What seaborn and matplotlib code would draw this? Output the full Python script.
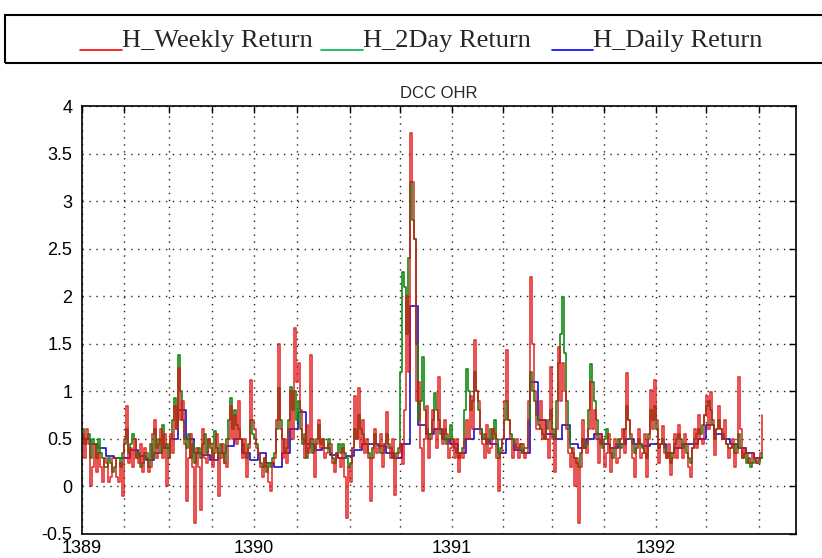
import numpy as np
import matplotlib
matplotlib.use("Agg")
import matplotlib.pyplot as plt
import seaborn as sns
from matplotlib.lines import Line2D
from matplotlib.patches import Rectangle

h_weekly = [0.55, 0.3, 0.6, 0.45, 0.0, 0.2, 0.45, 0.15, 0.35, 0.2,
            0.05, 0.3, 0.25, 0.05, 0.1, 0.3, 0.3, 0.1, 0.05, 0.25,
            -0.1, 0.5, 0.85, 0.25, 0.4, 0.2, 0.5, 0.3, 0.25, 0.45,
            0.15, 0.4, 0.35, 0.15, 0.2, 0.55, 0.7, 0.3, 0.45, 0.6,
            0.3, 0.55, 0.0, 0.3, 0.55, 0.35, 0.85, 0.6, 1.25, 0.7,
            0.9, 0.45, -0.15, 0.3, 0.55, 0.2, -0.38, 0.4, 0.2, -0.25,
            0.6, 0.3, 0.25, 0.5, 0.45, 0.2, 0.35, 0.55, -0.1, 0.3,
            0.45, 0.25, 0.2, 0.5, 0.85, 0.5, 0.75, 0.45, 0.9, 0.5,
            0.3, 0.5, 0.1, 0.4, 1.12, 0.7, 0.6, 0.4, 0.35, 0.2,
            0.1, 0.3, 0.2, 0.05, -0.05, 0.25, 0.3, 0.7, 1.5, 0.6,
            0.3, 0.5, 0.25, 0.6, 1.0, 0.5, 1.67, 1.1, 1.3, 0.8,
            0.5, 0.3, 0.65, 0.35, 1.38, 0.5, 0.1, 0.45, 0.7, 0.4,
            0.5, 0.3, 0.35, 0.45, 0.45, 0.25, 0.15, 0.35, 0.3, 0.2,
            0.4, 0.1, -0.33, 0.2, 0.05, 0.4, 0.95, 0.5, 1.03, 0.4,
            0.7, 0.35, 0.5, 0.3, -0.15, 0.3, 0.6, 0.35, 0.4, 0.55,
            0.2, 0.45, 0.78, 0.4, 0.3, 0.5, -0.09, 0.3, 0.35, 0.45,
            0.24, 0.8, 2.0, 1.2, 3.72, 3.2, 2.6, 0.9, 1.1, 0.4,
            -0.05, 0.5, 0.85, 0.3, 0.5, 0.8, 0.6, 0.4, 1.15, 0.6,
            0.45, 0.7, 0.55, 0.3, 0.4, 0.5, 0.3, 0.5, 0.15, 0.35,
            0.3, 0.5, 0.7, 0.5, 0.95, 0.6, 1.54, 1.0, 0.9, 0.55,
            0.45, 0.3, 0.65, 0.35, 0.4, 0.6, 0.55, 0.3, -0.05, 0.35,
            0.5, 0.9, 1.43, 0.7, 0.5, 0.3, 0.4, 0.5, 0.3, 0.45,
            0.45, 0.3, 0.35, 0.9, 2.2, 1.5, 1.0, 0.6, 0.6, 0.9,
            0.5, 0.7, 0.5, 0.3, 1.26, 0.5, 0.15, 0.6, 1.47, 0.9,
            1.3, 1.0, 0.6, 0.35, 0.2, 0.4, 0.0, 0.3, -0.38, 0.2,
            0.7, 0.4, 0.35, 0.6, 1.1, 0.6, 0.8, 0.5, 0.25, 0.55,
            0.45, 0.2, 0.35, 0.55, 0.15, 0.4, 0.5, 0.25, 0.3, 0.5,
            0.6, 0.35, 1.19, 0.7, 0.55, 0.3, 0.1, 0.45, 0.6, 0.3,
            0.35, 0.55, 0.1, 0.5, 1.01, 0.6, 1.12, 0.7, 0.25, 0.45,
            0.64, 0.35, 0.3, 0.45, 0.12, 0.3, 0.55, 0.3, 0.65, 0.4,
            0.3, 0.55, 0.45, 0.2, 0.1, 0.4, 0.6, 0.4, 0.75, 0.5,
            0.45, 0.75, 0.95, 0.6, 0.99, 0.7, 0.33, 0.6, 0.85, 0.6,
            0.5, 0.7, 0.45, 0.3, 0.4, 0.5, 0.2, 0.35, 1.15, 0.6,
            0.3, 0.4, 0.35, 0.25, 0.25, 0.35, 0.3, 0.25, 0.28, 0.35,
            0.75]

h_2day = [0.6, 0.45, 0.5, 0.55, 0.3, 0.5, 0.45, 0.3, 0.5, 0.35,
          0.3, 0.2, 0.2, 0.3, 0.25, 0.15, 0.2, 0.3, 0.3, 0.2,
          0.35, 0.45, 0.6, 0.35, 0.45, 0.55, 0.5, 0.3, 0.35, 0.2,
          0.25, 0.35, 0.3, 0.2, 0.45, 0.3, 0.6, 0.4, 0.5, 0.35,
          0.65, 0.4, 0.45, 0.3, 0.5, 0.7, 0.93, 0.6, 1.38, 1.0,
          0.7, 0.5, 0.4, 0.55, 0.3, 0.45, 0.25, 0.35, 0.4, 0.3,
          0.45, 0.55, 0.35, 0.5, 0.4, 0.3, 0.58, 0.4, 0.3, 0.45,
          0.35, 0.25, 0.5, 0.7, 0.93, 0.6, 0.8, 0.65, 0.6, 0.5,
          0.45, 0.35, 0.3, 0.45, 0.7, 0.55, 0.5, 0.45, 0.35, 0.25,
          0.2, 0.3, 0.15, 0.25, 0.2, 0.3, 0.35, 0.6, 1.03, 0.7,
          0.5, 0.35, 0.4, 0.7, 1.05, 0.8, 1.0, 0.7, 0.9, 0.6,
          0.45, 0.55, 0.3, 0.4, 0.5, 0.35, 0.4, 0.5, 0.65, 0.45,
          0.5, 0.4, 0.4, 0.5, 0.35, 0.3, 0.25, 0.35, 0.45, 0.35,
          0.45, 0.35, 0.3, 0.2, 0.25, 0.4, 0.6, 0.5, 0.75, 0.6,
          0.55, 0.45, 0.45, 0.35, 0.3, 0.4, 0.55, 0.45, 0.45, 0.35,
          0.35, 0.45, 0.55, 0.45, 0.4, 0.3, 0.3, 0.35, 0.4, 1.2,
          2.25, 2.1, 1.6, 2.4, 3.2, 2.8, 2.6, 1.5, 0.7, 0.9,
          1.36, 0.8, 0.6, 0.5, 0.55, 0.7, 0.98, 0.8, 0.7, 0.55,
          0.5, 0.6, 0.45, 0.5, 0.65, 0.5, 0.4, 0.35, 0.3, 0.35,
          0.4, 0.8, 1.24, 1.0, 0.8, 0.9, 1.2, 1.0, 0.8, 0.6,
          0.5, 0.55, 0.45, 0.5, 0.6, 0.5, 0.7, 0.5, 0.3, 0.4,
          0.5, 0.7, 0.9, 0.7, 0.55, 0.5, 0.45, 0.4, 0.4, 0.45,
          0.35, 0.4, 0.4, 0.7, 1.2, 1.0, 0.9, 0.75, 0.65, 0.6,
          0.55, 0.5, 0.6, 0.7, 0.8, 0.6, 0.5, 0.9, 1.3, 1.6,
          1.99, 1.4, 0.9, 0.6, 0.4, 0.35, 0.3, 0.25, 0.2, 0.35,
          0.5, 0.4, 0.45, 0.8, 1.29, 1.1, 0.9, 0.7, 0.5, 0.45,
          0.4, 0.5, 0.6, 0.45, 0.35, 0.3, 0.4, 0.45, 0.5, 0.4,
          0.45, 0.6, 0.85, 0.7, 0.5, 0.45, 0.35, 0.4, 0.5, 0.45,
          0.4, 0.35, 0.3, 0.55, 0.8, 0.7, 0.85, 0.6, 0.4, 0.45,
          0.5, 0.4, 0.3, 0.35, 0.25, 0.35, 0.45, 0.5, 0.55, 0.5,
          0.4, 0.45, 0.35, 0.3, 0.25, 0.4, 0.5, 0.55, 0.6, 0.55,
          0.65, 0.75, 0.85, 0.9, 0.8, 0.65, 0.5, 0.6, 0.7, 0.6,
          0.55, 0.5, 0.45, 0.4, 0.4, 0.45, 0.35, 0.45, 0.55, 0.4,
          0.3, 0.35, 0.25, 0.3, 0.2, 0.25, 0.3, 0.25, 0.25, 0.3,
          0.35]

# daily series is smoother, read at every fourth observation
h_daily = [0.5, 0.45, 0.4, 0.32, 0.3, 0.3, 0.38, 0.32, 0.28, 0.35,
           0.4, 0.5, 0.8, 0.5, 0.35, 0.33, 0.28, 0.35, 0.42, 0.5,
           0.35, 0.28, 0.35, 0.25, 0.2, 0.35, 0.6, 0.78, 0.45, 0.38,
           0.4, 0.33, 0.3, 0.32, 0.38, 0.45, 0.45, 0.42, 0.35, 0.3,
           0.45, 1.9, 0.65, 0.55, 0.6, 0.5, 0.45, 0.35, 0.5, 0.6,
           0.5, 0.45, 0.35, 0.5, 0.38, 0.35, 1.1, 0.7, 0.55, 0.5,
           0.65, 0.45, 0.4, 0.5, 0.55, 0.45, 0.4, 0.45, 0.5, 0.45,
           0.42, 0.45, 0.45, 0.35, 0.4, 0.45, 0.45, 0.5, 0.65, 0.55,
           0.5, 0.45, 0.4, 0.35, 0.3, 0.3]

t_weekly = np.arange(len(h_weekly))
t_2day = np.arange(len(h_2day))
t_daily = np.arange(len(h_daily)) * 4

# x ticks (observation index) and their labels
xtick_pos = [0, 21, 43.5, 65, 86, 107.5, 134, 159, 185, 210.5,
             235, 261, 287, 312, 338.5]
xtick_lab = ['1389', '', '', '', '1390', '', '', '', '1391', '', '', '',
             '1392', '', '']
ytick_pos = [-0.5, 0, 0.5, 1, 1.5, 2, 2.5, 3, 3.5, 4]
ytick_lab = ['-0.5', '0', '0.5', '1', '1.5', '2', '2.5', '3', '3.5', '4']

sns.set_style('white')
plt.rcParams['font.family'] = ['Liberation Sans', 'DejaVu Sans']

fig = plt.figure(figsize=(8.22, 5.58), dpi=100)
ax = fig.add_axes([82 / 822, 1 - 534 / 558, 714 / 822, 428 / 558])

sns.lineplot(x=t_daily, y=h_daily, ax=ax, color='#1414c8', lw=1.2,
             drawstyle='steps-post')
sns.lineplot(x=t_2day, y=h_2day, ax=ax, color='#138a13', lw=1.2,
             drawstyle='steps-post')
sns.lineplot(x=t_weekly, y=h_weekly, ax=ax, color='#e01010', lw=1.2,
             drawstyle='steps-post', alpha=0.85)

ax.set_xlim(0, 357)
ax.set_ylim(-0.5, 4)
ax.set_xticks(xtick_pos)
ax.set_xticklabels(xtick_lab)
ax.set_yticks(ytick_pos)
ax.set_yticklabels(ytick_lab)
ax.set_xlabel('')
ax.set_ylabel('')
ax.tick_params(direction='in', length=5, width=1, top=True, right=True,
               labelsize=13, colors='black')
ax.tick_params(axis='y', pad=7)
ax.tick_params(axis='x', pad=4)
ax.grid(True, color='#222222', linestyle=(0, (1, 4)), lw=1.0)
for s in ax.spines.values():
    s.set_color('black')
    s.set_linewidth(1.2)
ax.set_title('DCC OHR', fontsize=12, pad=6)

# legend box drawn above the plot
fig.add_artist(Rectangle((5 / 822, 1 - 63 / 558), 1.0, 48 / 558,
                         transform=fig.transFigure, fill=False,
                         edgecolor='black', lw=1.5))
leg = [('H_Weekly Return', 'red', 80, 122),
       ('H_2Day Return', '#00b050', 321, 363),
       ('H_Daily Return', 'blue', 552, 593)]
for lab, col, x0, x1 in leg:
    fig.add_artist(Line2D([x0 / 822, x1 / 822], [1 - 50 / 558, 1 - 50 / 558],
                          transform=fig.transFigure, color=col, lw=1.2))
    fig.text(x1 / 822, 1 - 47 / 558, lab, fontsize=19, va='baseline',
             family=['Liberation Serif', 'DejaVu Serif'])

fig.savefig('out.png', dpi=100)
